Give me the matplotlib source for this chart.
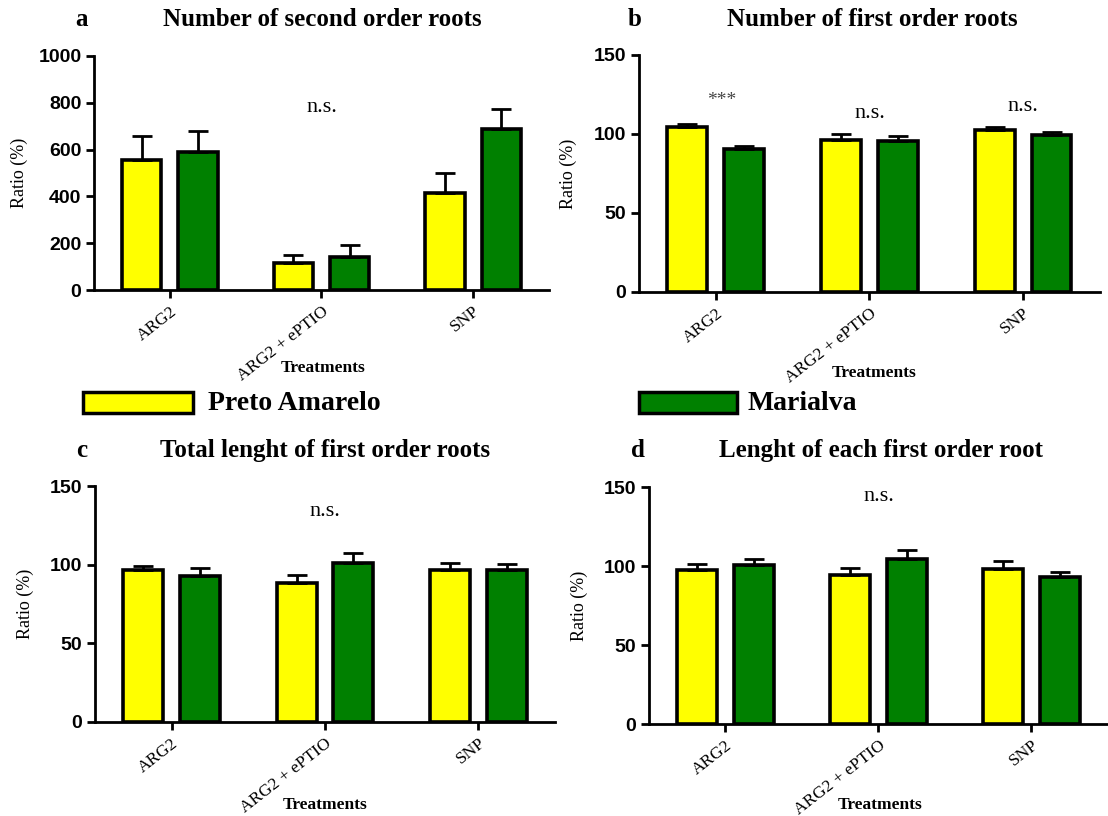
import matplotlib.pyplot as plt
from matplotlib.patches import Rectangle
import numpy as np

treatments = ["ARG2", "ARG2 + ePTIO", "SNP"]
cultivars = ["Preto Amarelo", "Marialva"]
colors = ["#FFFF00", "#008000"]

# mean and upper error bar per cultivar (Preto Amarelo, Marialva)
a_pa = [556, 115, 415]
a_pa_err = [102, 35, 85]
a_ma = [590, 141, 688]
a_ma_err = [89, 51, 85]

b_pa = [104.5, 96.5, 102.3]
b_pa_err = [1.9, 3.7, 1.9]
b_ma = [90.8, 95.4, 99.6]
b_ma_err = [1.5, 3.2, 1.5]

c_pa = [96.5, 88.1, 96.5]
c_pa_err = [2.8, 5.3, 4.7]
c_ma = [92.9, 100.8, 96.5]
c_ma_err = [4.7, 6.8, 3.9]

d_pa = [97.3, 94.6, 98.0]
d_pa_err = [3.8, 4.4, 5.2]
d_ma = [100.5, 104.3, 93.1]
d_ma_err = [3.8, 5.7, 3.2]

titles = ["Number of second order roots", "Number of first order roots",
          "Total lenght of first order roots", "Lenght of each first order root"]
letters = ["a", "b", "c", "d"]

serif = "Liberation Serif"
sans = "Liberation Sans"
W, H = 1108, 816

fig = plt.figure(figsize=(11.08, 8.16), dpi=100)

rects = [
    [0.0848, 0.6446, 0.4107, 0.2868],
    [0.5767, 0.6422, 0.4160, 0.2904],
    [0.0857, 0.1152, 0.4152, 0.2892],
    [0.5857, 0.1127, 0.4143, 0.2904],
]
panels = [
    (a_pa, a_pa_err, a_ma, a_ma_err, 1000, [0, 200, 400, 600, 800, 1000]),
    (b_pa, b_pa_err, b_ma, b_ma_err, 150, [0, 50, 100, 150]),
    (c_pa, c_pa_err, c_ma, c_ma_err, 150, [0, 50, 100, 150]),
    (d_pa, d_pa_err, d_ma, d_ma_err, 150, [0, 50, 100, 150]),
]
# significance labels: (x, y, text)
notes = [
    [(1, 778, "n.s.")],
    [(0.04, 121.5, "***"), (1, 112.7, "n.s."), (2, 117.7, "n.s.")],
    [(1, 133.5, "n.s.")],
    [(1, 144, "n.s.")],
]
# pixel positions of the panel letters, title centres and "Treatments"
letter_px = [(81, 20), (635, 20), (82, 450), (638, 450)]
title_px = [(322, 20), (872, 20), (325, 450), (881, 450)]
xlab_px = [(323, 368), (874, 373), (325, 805), (880, 805)]
ylab_px = [19, 568, 25, 579]

x = np.arange(len(treatments))
w = 0.26
off = 0.185

for i, (rect, (pa, pae, ma, mae, ymax, yt)) in enumerate(zip(rects, panels)):
    ax = fig.add_axes(rect)
    for vals, errs, dx, col in [(pa, pae, -off, colors[0]), (ma, mae, off, colors[1])]:
        ax.bar(x + dx, vals, w, color=col, edgecolor="black", linewidth=2.6, zorder=2)
        ax.errorbar(x + dx, vals, yerr=[np.zeros(len(errs)), errs], fmt="none",
                    ecolor="black", elinewidth=2, capsize=7, capthick=2, zorder=3)
    ax.set_xlim(-0.5, 2.5)
    ax.set_ylim(0, ymax)
    ax.set_yticks(yt)
    ax.set_yticklabels([str(v) for v in yt], fontfamily=sans, fontweight="bold", fontsize=14)
    ax.set_xticks(x)
    ax.set_xticklabels(treatments, rotation=38, ha="right", va="top",
                       rotation_mode="anchor", fontfamily=serif, fontsize=12.5)
    for s in ["top", "right"]:
        ax.spines[s].set_visible(False)
    for s in ["left", "bottom"]:
        ax.spines[s].set_linewidth(2)
    ax.tick_params(axis="both", width=2, length=6, direction="out")
    ax.tick_params(axis="y", pad=3)
    for nx, ny, txt in notes[i]:
        ax.text(nx, ny, txt, ha="center", va="center", fontfamily=serif,
                fontsize=16 if txt != "***" else 14,
                color="black" if txt != "***" else "#444444")

    cy = (rect[1] + rect[3] / 2)
    fig.text(ylab_px[i] / W, cy, "Ratio (%)", rotation=90, ha="center", va="center",
             fontfamily=serif, fontsize=13)
    fig.text(xlab_px[i][0] / W, 1 - xlab_px[i][1] / H, "Treatments", ha="center",
             va="center", fontfamily=serif, fontweight="bold", fontsize=12.5)
    fig.text(title_px[i][0] / W, 1 - title_px[i][1] / H, titles[i], ha="center",
             va="center", fontfamily=serif, fontweight="bold", fontsize=18)
    fig.text(letter_px[i][0] / W, 1 - letter_px[i][1] / H, letters[i], ha="center",
             va="center", fontfamily=serif, fontweight="bold", fontsize=18)

# legend boxes in figure pixels
for (x0, x1, tx), lab, col in zip([(83, 193, 208), (639, 737, 747)], cultivars, colors):
    fig.add_artist(Rectangle((x0 / W, 1 - 413 / H), (x1 - x0) / W, 21 / H,
                             transform=fig.transFigure, facecolor=col,
                             edgecolor="black", linewidth=2.5))
    fig.text(tx / W, 1 - 403 / H, lab, ha="left", va="center", fontfamily=serif,
             fontweight="bold", fontsize=20)

fig.savefig("out.png", dpi=100)
